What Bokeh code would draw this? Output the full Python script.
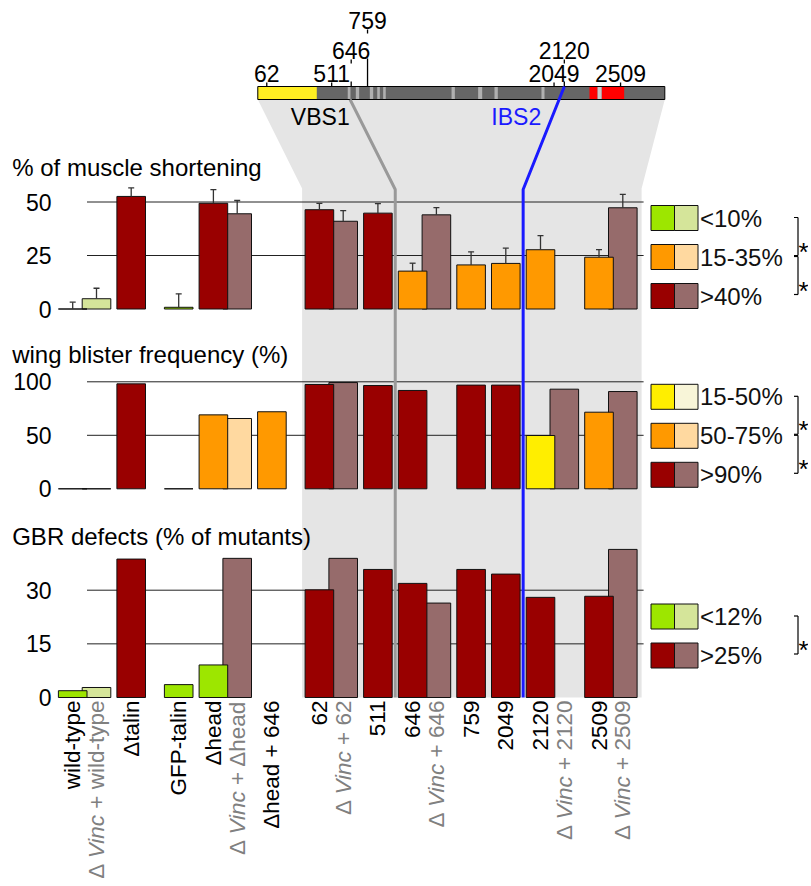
import math
from bokeh.plotting import figure
from bokeh.models import Range1d
from bokeh.embed import file_html
from bokeh.resources import INLINE
from bokeh.core.properties import value

# ---------------- data ----------------
labels = ["wild-type", "ΔVinc + wild-type", "Δtalin", "GFP-talin", "Δhead",
          "ΔVinc + Δhead", "Δhead + 646", "62", "ΔVinc + 62", "511", "646",
          "ΔVinc + 646", "759", "2049", "2120", "ΔVinc + 2120", "2509", "ΔVinc + 2509"]
groups = [0, 0, 0, 1, 1, 1, 1, 2, 2, 2, 2, 2, 2, 2, 2, 2, 2, 2]

muscle_mean = [0, 4.8, 52.6, 0.8, 49.4, 44.5, None, 46.4, 41.0, 44.8, 17.7, 44.0,
               20.6, 21.3, 27.7, None, 24.2, 47.3]
muscle_sd = [3.2, 4.9, 4.0, 6.3, 6.4, 6.2, None, 3.0, 5.0, 4.4, 3.7, 3.4,
             6.1, 7.1, 6.6, None, 3.5, 6.3]
muscle_class = ["low", "low", "high", "low", "high", "high", None, "high", "high", "high",
                "mid", "high", "mid", "mid", "mid", None, "mid", "high"]

wing_mean = [0, 0, 98.1, 0, 69.1, 65.7, 72.0, 97.5, 99.3, 96.5, 91.9, None,
             96.9, 96.9, 49.8, 93.1, 71.6, 90.9]
wing_class = ["low", "low", "high", "low", "mid", "mid", "mid", "high", "high", "high",
              "high", None, "high", "high", "low", "high", "mid", "high"]

gbr_mean = [1.9, 2.8, 38.7, 3.6, 9.1, 38.9, None, 30.1, 38.9, 35.8, 31.9, 26.4,
            35.8, 34.5, 28.0, None, 28.3, 41.4]
gbr_class = ["low", "low", "high", "low", "low", "high", None, "high", "high", "high",
             "high", "high", "high", "high", "high", None, "high", "high"]

panel_titles = ["% of muscle shortening", "wing blister frequency (%)", "GBR defects (% of mutants)"]
muscle_ticks = [0, 25, 50]
wing_ticks = [0, 50, 100]
gbr_ticks = [0, 15, 30]
muscle_grid = [25, 50]
wing_grid = [50, 100]
gbr_grid = [15, 30]

muscle_legend = ["<10%", "15-35%", ">40%"]
wing_legend = ["15-50%", "50-75%", ">90%"]
gbr_legend = ["<12%", ">25%"]

# talin schematic (residues)
talin_length = 2815
head_domain = [(0, 408)]
vbs_stripes = [(622, 641), (678, 701), (775, 798), (826, 844), (867, 885),
               (1340, 1363), (1524, 1552), (1637, 1660), (1962, 1983)]
ibs_red = [(2294, 2350), (2378, 2534)]
ibs_gap = [(2350, 2378)]
site_labels = ["62", "511", "646", "759", "2049", "2120", "2509"]
site_rows = [0, 0, 1, 2, 0, 1, 0]
vbs1_site = 638
ibs2_site = 2120

# ---------------- style / layout ----------------
FONT = value("Liberation Sans")
W, H, OFF = 808, 882, 0
BAR_W = 28.6
STEP, PARTNER, GAP = 34.7, 23.8, 12.8

BASE = {"green": "#9de600", "orange": "#ff9900", "red": "#990000", "yellow": "#ffee00"}
LIGHT = {"green": "#d5e59a", "orange": "#ffd9a0", "red": "#966b6b", "yellow": "#f8f5d8"}
CLASS_COL = [{"low": "green", "mid": "orange", "high": "red"},
             {"low": "yellow", "mid": "orange", "high": "red"},
             {"low": "green", "high": "red"}]
panels = [dict(zero=308.5, ppu=2.14, title_y=167, leg_off=13),
          dict(zero=488.3, ppu=1.07, title_y=354, leg_off=14),
          dict(zero=697.0, ppu=3.577, title_y=536, leg_off=42)]

is_vinc = [lab.startswith("ΔVinc") for lab in labels]
xs = []
x = 72.2
for i in range(len(labels)):
    if i > 0:
        if groups[i] != groups[i - 1]:
            x += STEP + GAP
        elif is_vinc[i]:
            x += PARTNER
        else:
            x += STEP
    xs.append(x)

# schematic mapping
SX0, SX1 = 257.3, 664.3
kres = (SX1 - SX0) / talin_length
def res_px(r):
    return SX0 + r * kres

p = figure(width=W, height=H, x_range=Range1d(OFF, OFF + W), y_range=Range1d(OFF + H, OFF),
           output_backend="svg", toolbar_location=None, min_border=0,
           x_axis_location=None, y_axis_location=None)
p.grid.visible = False
p.outline_line_color = None
p.background_fill_color = "white"

p.extra_x_ranges = {"res": Range1d((OFF - SX0) / kres, (OFF + W - SX0) / kres)}
for k, pn in enumerate(panels):
    p.extra_y_ranges["p%d" % k] = Range1d((pn["zero"] - (OFF + H)) / pn["ppu"],
                                          (pn["zero"] - OFF) / pn["ppu"])

BAR_TOP, BAR_BOT = 86, 99
BEND_Y = 188
BOTTOM_Y = panels[2]["zero"]
first_mut = groups.index(2)
gray_left = xs[first_mut] - BAR_W / 2 - 3
gray_right = xs[-1] + BAR_W / 2 + 4.5

# gray background
p.patch([SX0, SX1, gray_right, gray_right, gray_left, gray_left],
        [BAR_BOT, BAR_BOT, BEND_Y, BOTTOM_Y, BOTTOM_Y, BEND_Y],
        fill_color="#e5e5e5", line_color=None)

# schematic bar
p.quad(left=[0], right=[talin_length], top=BAR_TOP, bottom=BAR_BOT, x_range_name="res",
       fill_color="#666666", line_color=None)
p.quad(left=[a for a, b in head_domain], right=[b for a, b in head_domain], top=BAR_TOP,
       bottom=BAR_BOT, x_range_name="res", fill_color="#ffee22", line_color=None)
p.quad(left=[a for a, b in vbs_stripes], right=[b for a, b in vbs_stripes], top=BAR_TOP,
       bottom=BAR_BOT, x_range_name="res", fill_color="#b0b0b0", line_color=None)
p.quad(left=[a for a, b in ibs_red], right=[b for a, b in ibs_red], top=BAR_TOP,
       bottom=BAR_BOT, x_range_name="res", fill_color="#ff0000", line_color=None)
p.quad(left=[a for a, b in ibs_gap], right=[b for a, b in ibs_gap], top=BAR_TOP,
       bottom=BAR_BOT, x_range_name="res", fill_color="#c8c8c8", line_color=None)
p.quad(left=[0], right=[talin_length], top=BAR_TOP, bottom=BAR_BOT, x_range_name="res",
       fill_color=None, line_color="black", line_width=1)

# site labels + pointers
ROW_Y = {0: 73, 1: 50, 2: 20}
def tw(s, size):
    tab = {' ': 278, '+': 584, '-': 333, 'Δ': 668, 'V': 667, 'G': 778, 'F': 611, 'P': 667,
           'a': 556, 'c': 500, 'd': 556, 'e': 556, 'h': 556, 'i': 222, 'l': 222, 'n': 556,
           'p': 556, 't': 278, 'w': 722, 'y': 500, '%': 889, '<': 584, '>': 584}
    return sum(tab.get(ch, 556) for ch in s) / 1000.0 * size

site_res = [int(s) for s in site_labels]
seg_x, seg_y0, seg_y1 = [], [], []
for lab, r, row in zip(site_labels, site_res, site_rows):
    x = res_px(r)
    start = ROW_Y[row] + 9
    for rr in range(row - 1, -1, -1):
        blocked = any(site_rows[j] == rr and abs(res_px(site_res[j]) - x) < tw(site_labels[j], 23) / 2 + 1
                      for j in range(len(site_labels)))
        if blocked:
            seg_x.append(x); seg_y0.append(start); seg_y1.append(start + 4)
            start = ROW_Y[rr] + 8
    seg_x.append(x); seg_y0.append(start); seg_y1.append(BAR_TOP)
p.segment(x0=seg_x, y0=seg_y0, x1=seg_x, y1=seg_y1, line_color="black", line_width=1.3)
p.text(x=[res_px(r) for r in site_res], y=[ROW_Y[r] for r in site_rows], text=site_labels,
       text_font=FONT, text_font_size="23px", text_align="center", text_baseline="middle",
       text_color="black")

# gridlines
grid_left = xs[0] + BAR_W / 2
grid_right = gray_right + 2
for k, gl in enumerate([muscle_grid, wing_grid, gbr_grid]):
    p.segment(x0=[grid_left] * len(gl), x1=[grid_right] * len(gl), y0=gl, y1=gl,
              y_range_name="p%d" % k, line_color="#222222", line_width=1)

# bars
for k, (means, classes) in enumerate([(muscle_mean, muscle_class), (wing_mean, wing_class),
                                      (gbr_mean, gbr_class)]):
    for partner_pass in (True, False):
        bx, bt, bc = [], [], []
        for i, (m, c) in enumerate(zip(means, classes)):
            if m is None or is_vinc[i] != partner_pass:
                continue
            bx.append(xs[i]); bt.append(m)
            col = CLASS_COL[k][c]
            bc.append(LIGHT[col] if is_vinc[i] else BASE[col])
        p.vbar(x=bx, top=bt, bottom=0, width=BAR_W, fill_color=bc, line_color="#111111",
               line_width=1, y_range_name="p%d" % k)

# error bars (muscle)
ex, e0, e1 = [], [], []
for i, (m, s) in enumerate(zip(muscle_mean, muscle_sd)):
    if m is None or s is None:
        continue
    ex.append(xs[i]); e0.append(m); e1.append(m + s)
p.segment(x0=ex, x1=ex, y0=e0, y1=e1, y_range_name="p0", line_color="#333333", line_width=1.3)
p.segment(x0=[v - 3 for v in ex], x1=[v + 3 for v in ex], y0=e1, y1=e1, y_range_name="p0",
          line_color="#333333", line_width=1.3)

# divider lines
div1 = (xs[labels.index("511")] + xs[labels.index("646")]) / 2
div2 = (xs[labels.index("2049")] + xs[labels.index("2120")]) / 2
p.line([res_px(vbs1_site), div1, div1], [BAR_BOT, BEND_Y + 1, BOTTOM_Y],
       line_color="#999999", line_width=3)
p.line([res_px(ibs2_site), div2, div2], [BAR_TOP, BEND_Y + 1, BOTTOM_Y],
       line_color="#1a1aff", line_width=3)
LAB_Y = 116
p.text(x=[res_px(vbs1_site) + (LAB_Y - BAR_BOT) * (div1 - res_px(vbs1_site)) / (BEND_Y - BAR_BOT) - 9],
       y=[LAB_Y], text=["VBS1"], text_font=FONT, text_font_size="23px", text_align="right",
       text_baseline="middle", text_color="black")
p.text(x=[res_px(ibs2_site) + (LAB_Y - BAR_TOP) * (div2 - res_px(ibs2_site)) / (BEND_Y - BAR_TOP) - 11],
       y=[LAB_Y], text=["IBS2"], text_font=FONT, text_font_size="23px", text_align="right",
       text_baseline="middle", text_color="#1a1aff")

# panel titles and tick labels
for k, (pn, ticks) in enumerate(zip(panels, [muscle_ticks, wing_ticks, gbr_ticks])):
    p.text(x=[11.7], y=[pn["title_y"]], text=[panel_titles[k]], text_font=FONT,
           text_font_size="24px", text_align="left", text_baseline="middle", text_color="black")
    p.text(x=[51] * len(ticks), y=ticks, text=[str(t) for t in ticks], y_range_name="p%d" % k,
           text_font=FONT, text_font_size="23px", text_align="right", text_baseline="middle",
           text_color="black")

# legends
LEG_X0, SQ = 650.5, 23.5
for k, (pn, leg) in enumerate(zip(panels, [muscle_legend, wing_legend, gbr_legend])):
    n = len(leg)
    cols = ["low", "mid", "high"] if n == 3 else ["low", "high"]
    cy = [pn["zero"] - pn["leg_off"] - 39 * (n - 1 - j) for j in range(n)]
    base_c = [BASE[CLASS_COL[k][c]] for c in cols]
    light_c = [LIGHT[CLASS_COL[k][c]] for c in cols]
    p.rect(x=[LEG_X0 + SQ / 2] * n, y=cy, width=SQ, height=25, fill_color=base_c,
           line_color="#111111", line_width=1)
    p.rect(x=[LEG_X0 + SQ * 1.5] * n, y=cy, width=SQ, height=25, fill_color=light_c,
           line_color="#111111", line_width=1)
    p.text(x=[LEG_X0 + 2 * SQ + 2] * n, y=cy, text=leg, text_font=FONT, text_font_size="24px",
           text_align="left", text_baseline="middle", text_color="#111111")
    bx = 797.5
    bxs, by0, by1 = [], [], []
    star_y = []
    for j in range(n - 1):
        ya, yb = cy[j] - 0.5, cy[j + 1] - 1.5
        bxs += [bx, bx - 4, bx - 4]
        by0 += [ya, ya, yb]
        by1 += [yb, ya, yb]
        star_y.append((ya + yb) / 2)
    p.segment(x0=bxs, x1=[bx] * len(bxs), y0=by0, y1=by1, line_color="black", line_width=1.2)
    p.text(x=[803] * len(star_y), y=[y + 15 for y in star_y], text=["*"] * len(star_y),
           text_font=FONT, text_font_size="26px", text_align="center",
           text_baseline="alphabetic", text_color="black")

# bottom category labels (rotated)
LS = 22.5
TOP_Y = 700
for i, lab in enumerate(labels):
    if not is_vinc[i]:
        p.text(x=[xs[i]], y=[TOP_Y], text=[lab], angle=math.pi / 2, text_font=FONT,
               text_font_size="%.1fpx" % LS, text_align="right", text_baseline="middle",
               text_color="black")
    else:
        rest = lab[len("ΔVinc"):].strip()
        y1 = TOP_Y
        y2 = y1 + tw(rest, LS) + tw(" ", LS)
        y3 = y2 + tw("Vinc", LS) + tw(" ", LS) * 0.8
        p.text(x=[xs[i]], y=[y1], text=[rest], angle=math.pi / 2, text_font=FONT,
               text_font_size="%.1fpx" % LS, text_align="right", text_baseline="middle",
               text_color="#808080")
        p.text(x=[xs[i]], y=[y2], text=["Vinc"], angle=math.pi / 2, text_font=FONT,
               text_font_size="%.1fpx" % LS, text_font_style="italic", text_align="right",
               text_baseline="middle", text_color="#808080")
        p.text(x=[xs[i]], y=[y3], text=["Δ"], angle=math.pi / 2, text_font=FONT,
               text_font_size="%.1fpx" % LS, text_align="right", text_baseline="middle",
               text_color="#808080")

open("out.html", "w").write(file_html(p, INLINE))
